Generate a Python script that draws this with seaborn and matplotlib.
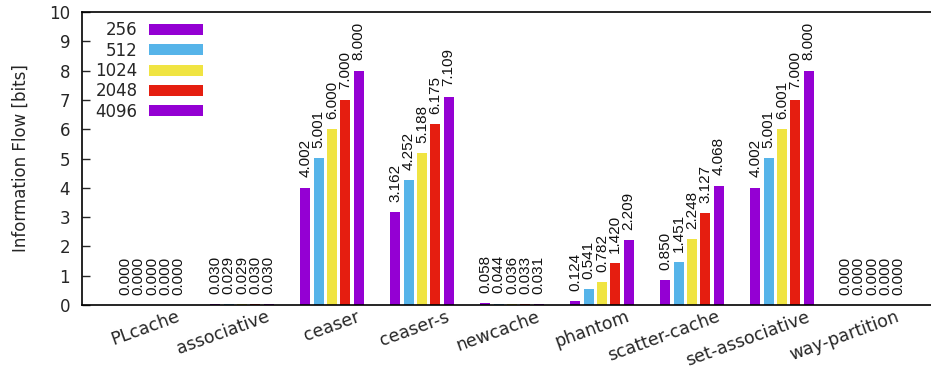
import matplotlib
matplotlib.use("Agg")
import matplotlib.pyplot as plt
import matplotlib.transforms as mtransforms
from matplotlib.patches import Patch
import pandas as pd
import seaborn as sns

# Cache designs and the cache sizes compared for each
designs = ["PLcache", "associative", "ceaser", "ceaser-s", "newcache",
           "phantom", "scatter-cache", "set-associative", "way-partition"]
sizes = ["256", "512", "1024", "2048", "4096"]

flow_256 = [0.000, 0.030, 4.002, 3.162, 0.058, 0.124, 0.850, 4.002, 0.000]
flow_512 = [0.000, 0.029, 5.001, 4.252, 0.044, 0.541, 1.451, 5.001, 0.000]
flow_1024 = [0.000, 0.029, 6.000, 5.188, 0.036, 0.782, 2.248, 6.001, 0.000]
flow_2048 = [0.000, 0.030, 7.000, 6.175, 0.033, 1.420, 3.127, 7.000, 0.000]
flow_4096 = [0.000, 0.030, 8.000, 7.109, 0.031, 2.209, 4.068, 8.000, 0.000]

series = dict(zip(sizes, [flow_256, flow_512, flow_1024, flow_2048, flow_4096]))
colors = dict(zip(sizes, ["#9400d3", "#56b4e9", "#f0e442", "#e51e10", "#9400d3"]))

df = pd.DataFrame(
    [(d, s, v) for s in sizes for d, v in zip(designs, series[s])],
    columns=["design", "size", "bits"],
)

sns.set_theme(style="white")
plt.rcParams["font.family"] = ["DejaVu Sans"]

fig = plt.figure(figsize=(9.31, 3.69), dpi=100)
ax = fig.add_axes([82 / 931, 64 / 369, 849 / 931, 293 / 369])

sns.barplot(data=df, x="design", y="bits", hue="size", order=designs,
            hue_order=sizes, palette=colors, width=0.74, gap=0.25,
            saturation=1, linewidth=0, legend=False, ax=ax)

for cont in ax.containers:
    ax.bar_label(cont, fmt="%.3f", rotation=90, padding=7.5,
                 fontsize=11, family="Liberation Sans", color="#111111")

ax.set_xlim(-0.778, 8.656)
ax.set_ylim(0, 10)
ax.set_yticks(range(0, 11))
ax.set_xlabel("")
ax.set_ylabel("Information Flow [bits]", fontsize=12, labelpad=14)

ax.tick_params(axis="y", direction="in", length=6, width=1, pad=8.5,
               labelsize=12, left=True, right=False)
ax.tick_params(axis="x", length=0, labelsize=12.5, pad=3)

shift = mtransforms.ScaledTranslation(0.27, -0.07, fig.dpi_scale_trans)
for lab in ax.get_xticklabels():
    lab.set_rotation(20)
    lab.set_ha("right")
    lab.set_va("center")
    lab.set_rotation_mode("anchor")
    lab.set_transform(lab.get_transform() + shift)

for side in ["left", "bottom", "top"]:
    ax.spines[side].set_color("black")
    ax.spines[side].set_linewidth(1.2)
ax.spines["right"].set_visible(False)

# key: labels right-aligned in front of their colour swatches
handles = [Patch(facecolor=colors[s], edgecolor="none") for s in sizes]
ax.legend(handles, sizes, loc="upper left", bbox_to_anchor=(0.0155, 0.968),
          frameon=False, markerfirst=False, fontsize=12,
          handlelength=3.25, handleheight=0.65, handletextpad=0.7,
          labelspacing=0.14, borderpad=0, borderaxespad=0)

fig.savefig("out.png", dpi=100)
